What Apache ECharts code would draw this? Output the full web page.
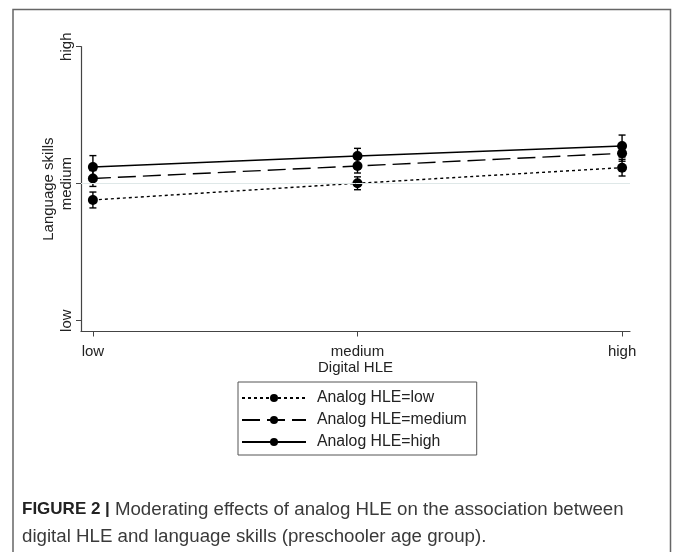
<!DOCTYPE html>
<html>
<head>
<meta charset="utf-8">
<script src="https://cdn.jsdelivr.net/npm/echarts@6/dist/echarts.min.js"></script>
<style>
  html, body { margin: 0; padding: 0; background: #fff; }
  #chart { width: 673px; height: 552px; }
</style>
</head>
<body>
<div id="chart"></div>
<script>
// digital HLE levels on the x axis (0 = low, 1 = medium, 2 = high)
const digitalLevels = [0, 1, 2];
const levelLabels = ['low', 'medium', 'high'];

// predicted language skills (same 0..2 scale), with 95% CI
const analogLowMean = [0.881, 1.003, 1.117];
const analogLowLower = [0.823, 0.956, 1.056];
const analogLowUpper = [0.939, 1.050, 1.178];

const analogMedMean = [1.038, 1.129, 1.222];
const analogMedLower = [0.980, 1.078, 1.164];
const analogMedUpper = [1.096, 1.180, 1.280];

const analogHighMean = [1.122, 1.202, 1.275];
const analogHighLower = [1.039, 1.146, 1.195];
const analogHighUpper = [1.205, 1.258, 1.355];

const seriesNames = ['Analog HLE=low', 'Analog HLE=medium', 'Analog HLE=high'];
const dashTypes = [[3, 3], [18, 7], 'solid'];

const groups = [
  { mean: analogLowMean, lower: analogLowLower, upper: analogLowUpper },
  { mean: analogMedMean, lower: analogMedLower, upper: analogMedUpper },
  { mean: analogHighMean, lower: analogHighLower, upper: analogHighUpper }
];

const chart = echarts.init(document.getElementById('chart'));

const errorBarSeries = groups.map((g) => ({
  type: 'custom',
  silent: true,
  z: 1,
  data: digitalLevels.map((x, i) => [x, g.lower[i], g.upper[i]]),
  encode: { x: 0, y: [1, 2] },
  renderItem: (params, api) => {
    const top = api.coord([api.value(0), api.value(2)]);
    const bot = api.coord([api.value(0), api.value(1)]);
    const hw = 3.5;
    const style = { stroke: '#000', lineWidth: 1.4 };
    return {
      type: 'group',
      children: [
        { type: 'line', shape: { x1: top[0], y1: top[1], x2: bot[0], y2: bot[1] }, style },
        { type: 'line', shape: { x1: top[0] - hw, y1: top[1], x2: top[0] + hw, y2: top[1] }, style },
        { type: 'line', shape: { x1: bot[0] - hw, y1: bot[1], x2: bot[0] + hw, y2: bot[1] }, style }
      ]
    };
  }
}));

const lineSeries = groups.map((g, k) => ({
  name: seriesNames[k],
  type: 'line',
  z: 3,
  data: digitalLevels.map((x, i) => [x, g.mean[i]]),
  symbol: 'circle',
  symbolSize: 10,
  itemStyle: { color: '#000' },
  lineStyle: { color: '#000', width: 1.4, type: dashTypes[k] },
  emphasis: { disabled: true },
  ...(k === 0 ? {
    markLine: {
      silent: true,
      symbol: 'none',
      label: { show: false },
      lineStyle: { color: '#dfe8e8', width: 1, type: 'solid' },
      data: [{ yAxis: 1 }]
    }
  } : {})
}));

const option = {
  animation: false,
  backgroundColor: '#fff',
  textStyle: { fontFamily: 'Liberation Sans, Arial, sans-serif' },
  grid: { left: 81, right: 43, top: 46.7, bottom: 220.5 },
  xAxis: {
    type: 'value',
    min: -0.045,
    max: 2.03,
    name: 'Digital HLE',
    nameLocation: 'middle',
    nameGap: 29,
    nameMoveOverlap: false,
    nameTextStyle: { color: '#222', fontSize: 15 },
    splitLine: { show: false },
    axisLine: { show: true, onZero: false, lineStyle: { color: '#444', width: 1.2 } },
    axisTick: { show: true, length: 5, customValues: digitalLevels, lineStyle: { color: '#444' } },
    axisLabel: {
      customValues: digitalLevels,
      color: '#222',
      fontSize: 15,
      margin: 13,
      formatter: (v) => levelLabels[Math.round(v)]
    }
  },
  yAxis: {
    type: 'value',
    min: -0.079,
    max: 2,
    name: 'Language skills',
    nameLocation: 'middle',
    nameGap: 25,
    nameMoveOverlap: false,
    nameTextStyle: { color: '#222', fontSize: 15 },
    splitLine: { show: false },
    axisLine: { show: true, onZero: false, lineStyle: { color: '#444', width: 1.2 } },
    axisTick: { show: true, length: 5, customValues: digitalLevels, lineStyle: { color: '#444' } },
    axisLabel: {
      customValues: digitalLevels,
      rotate: 90,
      color: '#222',
      fontSize: 15,
      margin: 7,
      formatter: (v) => levelLabels[Math.round(v)]
    }
  },
  legend: {
    data: seriesNames,
    orient: 'vertical',
    left: 238,
    top: 382,
    padding: [8, 10, 5, 3],
    borderColor: '#555',
    borderWidth: 1,
    itemWidth: 64,
    itemHeight: 10,
    itemGap: 6,
    selectedMode: false,
    textStyle: { color: '#222', fontSize: 15.8, padding: [0, 0, 0, 6] }
  },
  graphic: [
    {
      type: 'polyline',
      silent: true,
      shape: { points: [[13, 552], [13, 9.5], [670.5, 9.5], [670.5, 552]] },
      style: { stroke: '#666', lineWidth: 1.5, fill: null }
    },
    {
      type: 'text',
      left: 22,
      top: 496,
      silent: true,
      style: {
        text: '{b|FIGURE 2 |} {n|Moderating effects of analog HLE on the association between}\n{n|digital HLE and language skills (preschooler age group).}',
        fill: '#3a3a3a',
        font: '18px "Liberation Sans", Arial, sans-serif',
        lineHeight: 27,
        rich: {
          b: { fontWeight: 'bold', fontSize: 17, fill: '#222', lineHeight: 27 },
          n: { fontSize: 18.7, fill: '#3a3a3a', lineHeight: 27 }
        }
      }
    }
  ],
  series: [...errorBarSeries, ...lineSeries]
};

chart.setOption(option);
</script>
</body>
</html>
